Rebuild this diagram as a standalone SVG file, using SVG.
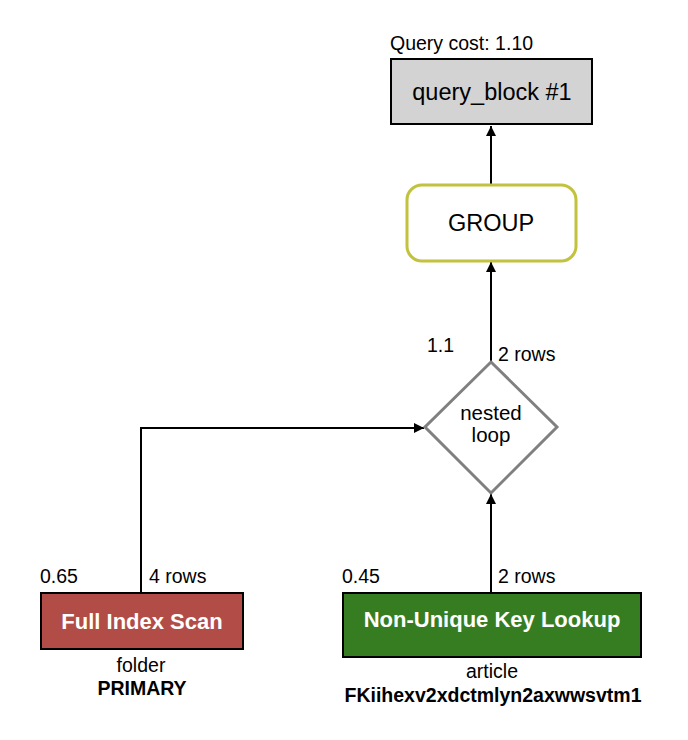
<svg xmlns="http://www.w3.org/2000/svg" width="688" height="740" viewBox="0 0 688 740">
<defs>
<marker id="arr" markerWidth="10" markerHeight="10" refX="10" refY="5" orient="auto" markerUnits="userSpaceOnUse" viewBox="0 0 10 10">
<path d="M0,0 L10,5 L0,10 z" fill="#000"/>
</marker>
<style>
text{font-family:"Liberation Sans",Arial,Helvetica,sans-serif;fill:#000}
.lbl{font-size:19.5px}
.mid{text-anchor:middle}
.w{fill:#fff;font-weight:bold;font-size:22px}
.b{font-weight:bold}
.edge{stroke:#000;stroke-width:2;fill:none}
</style>
</defs>
<rect width="688" height="740" fill="#fff"/>
<g id="connectors">
<line class="edge" x1="491" y1="184" x2="491" y2="126" marker-end="url(#arr)"/>
<line class="edge" x1="491" y1="361" x2="491" y2="262" marker-end="url(#arr)"/>
<polyline class="edge" points="141,593 141,428 424,428" marker-end="url(#arr)"/>
<line class="edge" x1="491" y1="592" x2="491" y2="494" marker-end="url(#arr)"/>
<text class="lbl" x="427" y="352">1.1</text>
<text class="lbl" x="498" y="361">2 rows</text>
<text class="lbl" x="40" y="583">0.65</text>
<text class="lbl" x="149" y="583">4 rows</text>
<text class="lbl" x="342" y="583">0.45</text>
<text class="lbl" x="498" y="583">2 rows</text>
</g>
<g id="query_block">
<text class="lbl" x="390" y="50">Query cost: 1.10</text>
<rect x="391" y="59" width="201" height="65" fill="#d3d3d3" stroke="#000" stroke-width="2"/>
<text class="mid" x="492" y="100" font-size="23.5">query_block #1</text>
</g>
<g id="group">
<rect x="407" y="185" width="169" height="76" rx="15" ry="15" fill="#fff" stroke="#c2c23e" stroke-width="3"/>
<text class="mid" x="491" y="231" font-size="23.5">GROUP</text>
</g>
<g id="nested_loop">
<polygon points="491,362 557,427 491,493 425,427" fill="#fff" stroke="#808080" stroke-width="3"/>
<text class="mid" x="491" y="420" font-size="20.5">nested</text>
<text class="mid" x="491" y="442" font-size="20.5">loop</text>
</g>
<g id="full_index_scan">
<rect x="41" y="593" width="202" height="56" fill="#b24c47" stroke="#000" stroke-width="2"/>
<text class="mid w" x="142" y="629">Full Index Scan</text>
<text class="mid lbl" x="141" y="672">folder</text>
<text class="mid lbl b" x="142" y="695">PRIMARY</text>
</g>
<g id="non_unique_key_lookup">
<rect x="343" y="593" width="298" height="64" fill="#367d22" stroke="#000" stroke-width="2"/>
<text class="mid w" x="492" y="627">Non-Unique Key Lookup</text>
<text class="mid lbl" x="492" y="678">article</text>
<text class="mid lbl b" x="493" y="702">FKiihexv2xdctmlyn2axwwsvtm1</text>
</g>
</svg>
